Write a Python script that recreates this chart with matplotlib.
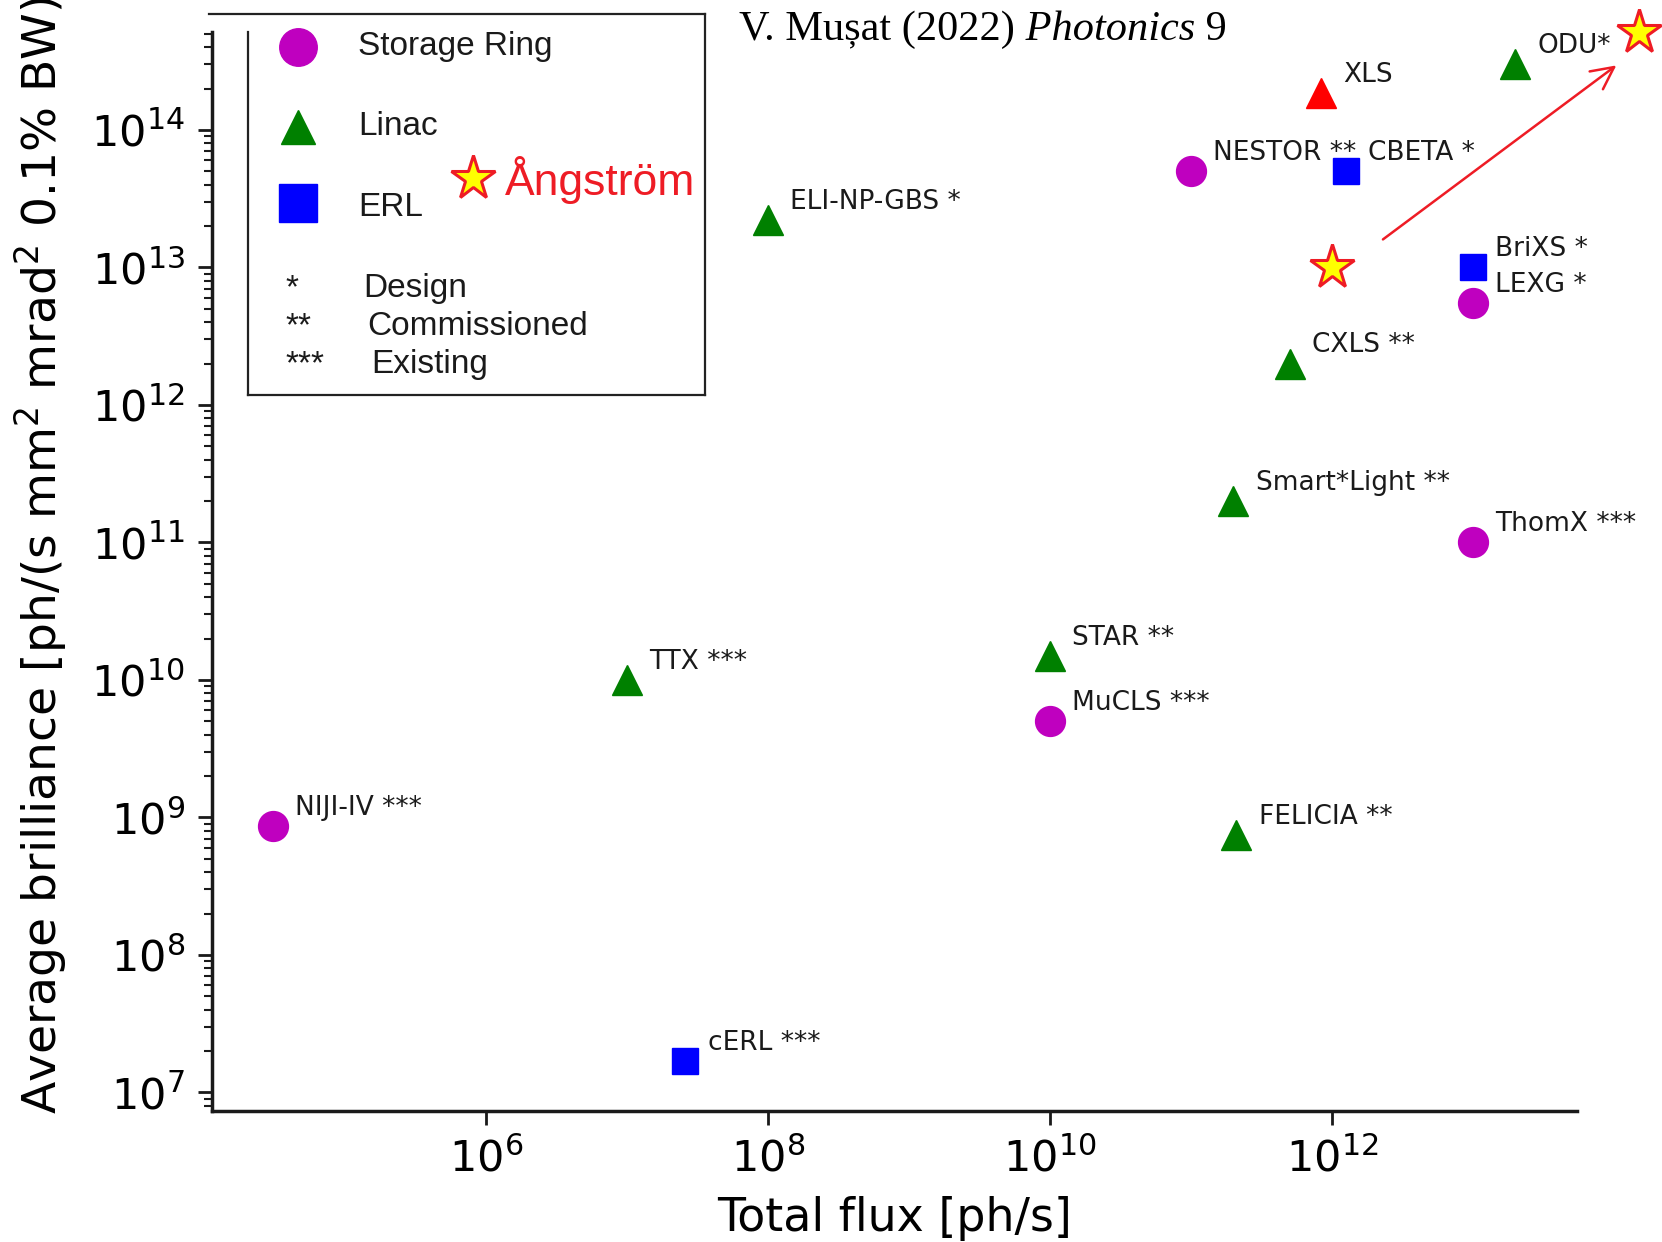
import matplotlib
matplotlib.use("Agg")
import matplotlib.pyplot as plt
from matplotlib.lines import Line2D
from matplotlib.ticker import FixedLocator, LogLocator, NullLocator

W, H = 1662, 1242

# Compton / inverse-Compton X-ray sources: total flux [ph/s] vs average brilliance
ring_names = ["NIJI-IV ***", "MuCLS ***", "NESTOR **", "ThomX ***", "LEXG *"]
ring_flux = [3.1e4, 1e10, 1e11, 1e13, 1e13]
ring_bril = [8.6e8, 5e9, 5e13, 1e11, 5.5e12]

linac_names = ["TTX ***", "ELI-NP-GBS *", "STAR **", "Smart*Light **",
               "FELICIA **", "CXLS **", "ODU*"]
linac_flux = [1e7, 1e8, 1e10, 2e11, 2.1e11, 5e11, 2e13]
linac_bril = [1e10, 2.2e13, 1.5e10, 2e11, 7.5e8, 2e12, 3e14]

erl_names = ["cERL ***", "CBETA *", "BriXS *"]
erl_flux = [2.6e7, 1.26e12, 1e13]
erl_bril = [1.7e7, 5e13, 1e13]

xls_names = ["XLS"]
xls_flux = [8.3e11]
xls_bril = [1.85e14]

# Angstrom source: present design and upgrade target
ang_flux = [1e12, 1.5e14]
ang_bril = [1e13, 5.2e14]
arrow_from = (2.3e12, 1.6e13)
arrow_to = (1.04e14, 2.95e14)

x_major = [1e6, 1e8, 1e10, 1e12]
y_major = [10.0 ** k for k in range(7, 15)]

INK = "#1a1a1a"


def fx(px):
    return px / W


def fy(py):
    return 1 - py / H


fig = plt.figure(figsize=(W / 100, H / 100), dpi=100)
ax = fig.add_axes([fx(212), fy(1111), (1577 - 212) / W, (1111 - 32) / H])
ax.set_xscale("log")
ax.set_yscale("log")
ax.set_xlim(1.14e4, 5.47e13)
ax.set_ylim(7.33e6, 5.16e14)

groups = [
    (ring_names, ring_flux, ring_bril, "o", "m", 21.5),
    (linac_names, linac_flux, linac_bril, "^", "g", 21),
    (erl_names, erl_flux, erl_bril, "s", "b", 19),
    (xls_names, xls_flux, xls_bril, "^", "r", 21),
]
for names, xs, ys, mk, col, ms in groups:
    ax.plot(xs, ys, ls="none", marker=mk, color=col, ms=ms, clip_on=False, zorder=3)
    for name, x, y in zip(names, xs, ys):
        ax.annotate(name, (x, y), xytext=(16, 8), textcoords="offset points",
                    fontsize=19, va="baseline", color=INK, annotation_clip=False)

ax.plot(ang_flux, ang_bril, ls="none", marker="*", ms=33, mfc="#ffff00",
        mec="#ee1c25", mew=2.2, clip_on=False, zorder=4)
ax.annotate("", xy=arrow_to, xytext=arrow_from, annotation_clip=False,
            arrowprops=dict(arrowstyle="->", color="#ee1c25", lw=1.8,
                            mutation_scale=40, shrinkA=0, shrinkB=0))

# axes styling
for side in ("top", "right"):
    ax.spines[side].set_visible(False)
for side in ("left", "bottom"):
    ax.spines[side].set_linewidth(2.5)
    ax.spines[side].set_color(INK)
ax.xaxis.set_major_locator(FixedLocator(x_major))
ax.xaxis.set_minor_locator(NullLocator())
ax.yaxis.set_major_locator(FixedLocator(y_major))
ax.yaxis.set_minor_locator(LogLocator(base=10, subs=range(2, 10), numticks=100))
ax.tick_params(which="major", length=10, width=2, labelsize=31, pad=9.5, color=INK)
ax.tick_params(which="minor", length=5.5, width=1.5, color=INK)

ax.set_xlabel("Total flux [ph/s]", fontsize=33, labelpad=11)
ax.set_ylabel(r"Average brilliance [ph/(s mm$^2$ mrad$^2$ 0.1% BW)]",
              fontsize=34, loc="bottom")
ax.yaxis.set_label_coords(-0.105, -0.003)

# legend box, drawn by hand (marker rows and status rows are spaced differently)
box = dict(transform=fig.transFigure, color="#222222", lw=1.6)
fig.add_artist(Line2D([fx(209), fx(705)], [fy(14), fy(14)], **box))
fig.add_artist(Line2D([fx(705), fx(705)], [fy(14), fy(395)], **box))
fig.add_artist(Line2D([fx(248), fx(705)], [fy(395), fy(395)], **box))
fig.add_artist(Line2D([fx(248), fx(248)], [fy(32), fy(395)], **box))

leg_font = dict(fontsize=24, family="Liberation Sans", va="baseline", color=INK)
for mk, col, ms, py, label, ty in [("o", "m", 27, 47, "Storage Ring", 55),
                                   ("^", "g", 25, 127, "Linac", 135),
                                   ("s", "b", 27, 203, "ERL", 216)]:
    fig.add_artist(Line2D([fx(298)], [fy(py)], ls="none", marker=mk, color=col,
                          ms=ms, transform=fig.transFigure))
    fig.text(fx(358), fy(ty), label, **leg_font)
for stars, label, tx, ty in [("*", "Design", 363, 297),
                             ("**", "Commissioned", 367, 335),
                             ("***", "Existing", 371, 373)]:
    fig.text(fx(285), fy(ty), stars, **leg_font)
    fig.text(fx(tx), fy(ty), label, **leg_font)

fig.add_artist(Line2D([fx(473)], [fy(178)], ls="none", marker="*", ms=33,
                      mfc="#ffff00", mec="#ee1c25", mew=2.2,
                      transform=fig.transFigure))
fig.text(fx(505), fy(195), "Ångström", fontsize=32, family="Liberation Sans",
         va="baseline", color="#ee1c25")

# citation
cite = dict(fontsize=30.5, family="Liberation Serif", color="black")
t1 = fig.text(fx(739), fy(40), "V. Mușat (2022)", va="baseline", **cite)
t2 = ax.annotate(" Photonics", xy=(1, 0), xycoords=t1, va="bottom", ha="left",
                 style="italic", **cite)
ax.annotate(" 9", xy=(1, 0), xycoords=t2, va="bottom", ha="left", **cite)

fig.savefig("out.png", dpi=100)
